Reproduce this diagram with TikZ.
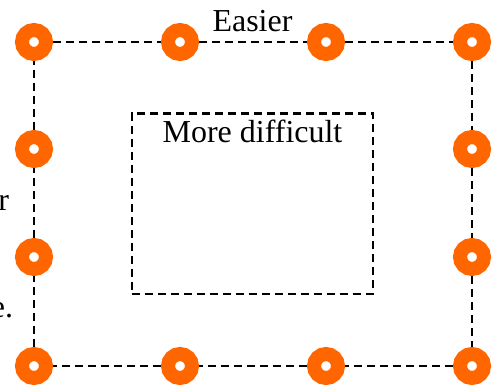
\documentclass[tikz,border=0pt]{standalone}
\usepackage{fontspec}
\setmainfont{Liberation Serif}
\usetikzlibrary{positioning}
\definecolor{ringorange}{HTML}{FF6600}
\newcommand{\ringcolor}{ringorange}
\tikzstyle{every node}=[font=\fontsize{18.2}{22}\selectfont, inner sep=0, outer sep=0]
\tikzstyle{ring}=[circle, draw=\ringcolor, fill=white, line width=.28cm, minimum size=.48cm, outer sep=.14cm]
\tikzstyle{border}=[line width=.045cm, dash pattern=on .16cm off .1cm]

\begin{document}
\begin{tikzpicture}[x=.02cm, y=-.02cm]
    \useasboundingbox (0, 0) rectangle (496, 385);
    \node[ring] (tl) at (34, 42) {};
    \node[ring] (t1) at (180, 42) {};
    \node[ring] (t2) at (326, 42) {};
    \node[ring] (tr) at (472, 42) {};
    \node[ring] (l1) at (34, 149) {};
    \node[ring] (l2) at (34, 257) {};
    \node[ring] (r1) at (472, 149) {};
    \node[ring] (r2) at (472, 257) {};
    \node[ring] (bl) at (34, 366) {};
    \node[ring] (b1) at (180, 366) {};
    \node[ring] (b2) at (326, 366) {};
    \node[ring] (br) at (472, 366) {};
    \draw[border] (tl) -- (t1) -- (t2) -- (tr) -- (r1) -- (r2) -- (br)
        -- (b2) -- (b1) -- (bl) -- (l2) -- (l1) -- (tl);
    \node[draw, border, minimum width=4.83cm, minimum height=3.61cm] (hard) at (252.5, 203.7) {};
    \node[anchor=base] (hardtext) at (252.5, 142) {More difficult};
    \node[anchor=base] (easy) at (252.5, 32) {Easier};
    \node[anchor=base east] (leftr) at (9, 210) {r};
    \node[anchor=base east] (lefte) at (13, 317) {e.};
\end{tikzpicture}
\end{document}
